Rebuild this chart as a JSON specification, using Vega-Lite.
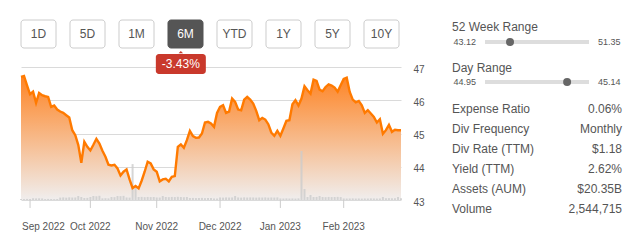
{
  "$schema": "https://vega.github.io/schema/vega-lite/v6.json",
  "padding": {"left": 16, "top": 19, "right": 5, "bottom": 5},
  "background": "white",
  "config": {"view": {"stroke": null}, "font": "Liberation Sans"},
  "datasets": {
    "prices": [
      {"date":"2022-08-29","price":46.70,"volume":1500000},
      {"date":"2022-08-30","price":46.73,"volume":1400000},
      {"date":"2022-08-31","price":46.45,"volume":1600000},
      {"date":"2022-09-01","price":46.18,"volume":1500000},
      {"date":"2022-09-02","price":46.26,"volume":2600000},
      {"date":"2022-09-06","price":45.92,"volume":2400000},
      {"date":"2022-09-07","price":46.22,"volume":2500000},
      {"date":"2022-09-08","price":46.15,"volume":2300000},
      {"date":"2022-09-09","price":46.12,"volume":1400000},
      {"date":"2022-09-12","price":46.10,"volume":1600000},
      {"date":"2022-09-13","price":45.80,"volume":1500000},
      {"date":"2022-09-14","price":45.84,"volume":1300000},
      {"date":"2022-09-15","price":45.72,"volume":1500000},
      {"date":"2022-09-16","price":45.66,"volume":3600000},
      {"date":"2022-09-19","price":45.62,"volume":3900000},
      {"date":"2022-09-20","price":45.55,"volume":3500000},
      {"date":"2022-09-21","price":45.48,"volume":4000000},
      {"date":"2022-09-22","price":45.10,"volume":3700000},
      {"date":"2022-09-23","price":44.95,"volume":3800000},
      {"date":"2022-09-26","price":44.65,"volume":6000000},
      {"date":"2022-09-27","price":44.12,"volume":4500000},
      {"date":"2022-09-28","price":44.75,"volume":3000000},
      {"date":"2022-09-29","price":44.60,"volume":3200000},
      {"date":"2022-09-30","price":44.49,"volume":4500000},
      {"date":"2022-10-03","price":44.66,"volume":6000000},
      {"date":"2022-10-04","price":44.84,"volume":5600000},
      {"date":"2022-10-05","price":44.70,"volume":6300000},
      {"date":"2022-10-06","price":44.48,"volume":2500000},
      {"date":"2022-10-07","price":44.30,"volume":2700000},
      {"date":"2022-10-10","price":44.06,"volume":2400000},
      {"date":"2022-10-11","price":44.04,"volume":4500000},
      {"date":"2022-10-12","price":44.06,"volume":4300000},
      {"date":"2022-10-13","price":43.95,"volume":6000000},
      {"date":"2022-10-14","price":43.74,"volume":5800000},
      {"date":"2022-10-17","price":43.85,"volume":6200000},
      {"date":"2022-10-18","price":43.92,"volume":3800000},
      {"date":"2022-10-19","price":43.62,"volume":3600000},
      {"date":"2022-10-20","price":43.36,"volume":54000000},
      {"date":"2022-10-21","price":43.42,"volume":19500000},
      {"date":"2022-10-24","price":43.35,"volume":4500000},
      {"date":"2022-10-25","price":43.58,"volume":4700000},
      {"date":"2022-10-26","price":43.85,"volume":4300000},
      {"date":"2022-10-27","price":44.15,"volume":4600000},
      {"date":"2022-10-28","price":44.10,"volume":4400000},
      {"date":"2022-10-31","price":43.92,"volume":4500000},
      {"date":"2022-11-01","price":43.85,"volume":3800000},
      {"date":"2022-11-02","price":43.56,"volume":3700000},
      {"date":"2022-11-03","price":43.62,"volume":6000000},
      {"date":"2022-11-04","price":43.64,"volume":4500000},
      {"date":"2022-11-07","price":43.56,"volume":4300000},
      {"date":"2022-11-08","price":43.70,"volume":4600000},
      {"date":"2022-11-09","price":43.72,"volume":4400000},
      {"date":"2022-11-10","price":44.60,"volume":4800000},
      {"date":"2022-11-11","price":44.67,"volume":4500000},
      {"date":"2022-11-14","price":44.57,"volume":4200000},
      {"date":"2022-11-15","price":44.80,"volume":4500000},
      {"date":"2022-11-16","price":45.08,"volume":3000000},
      {"date":"2022-11-17","price":44.92,"volume":3100000},
      {"date":"2022-11-18","price":44.87,"volume":2900000},
      {"date":"2022-11-21","price":44.88,"volume":3000000},
      {"date":"2022-11-22","price":45.00,"volume":3200000},
      {"date":"2022-11-23","price":45.33,"volume":2800000},
      {"date":"2022-11-25","price":45.35,"volume":3000000},
      {"date":"2022-11-28","price":45.30,"volume":3100000},
      {"date":"2022-11-29","price":45.20,"volume":2300000},
      {"date":"2022-11-30","price":45.62,"volume":2200000},
      {"date":"2022-12-01","price":45.80,"volume":3800000},
      {"date":"2022-12-02","price":45.85,"volume":3600000},
      {"date":"2022-12-05","price":45.62,"volume":3900000},
      {"date":"2022-12-06","price":45.66,"volume":3700000},
      {"date":"2022-12-07","price":46.05,"volume":3800000},
      {"date":"2022-12-08","price":45.95,"volume":6000000},
      {"date":"2022-12-09","price":45.72,"volume":3800000},
      {"date":"2022-12-12","price":45.70,"volume":3600000},
      {"date":"2022-12-13","price":46.02,"volume":4000000},
      {"date":"2022-12-14","price":46.10,"volume":3700000},
      {"date":"2022-12-15","price":46.02,"volume":3900000},
      {"date":"2022-12-16","price":45.90,"volume":3800000},
      {"date":"2022-12-19","price":45.68,"volume":3600000},
      {"date":"2022-12-20","price":45.40,"volume":3800000},
      {"date":"2022-12-21","price":45.47,"volume":3700000},
      {"date":"2022-12-22","price":45.42,"volume":3900000},
      {"date":"2022-12-23","price":45.28,"volume":3600000},
      {"date":"2022-12-27","price":45.03,"volume":3800000},
      {"date":"2022-12-28","price":44.93,"volume":3700000},
      {"date":"2022-12-29","price":45.08,"volume":3900000},
      {"date":"2022-12-30","price":44.93,"volume":2300000},
      {"date":"2023-01-03","price":45.15,"volume":2200000},
      {"date":"2023-01-04","price":45.38,"volume":2400000},
      {"date":"2023-01-05","price":45.40,"volume":2200000},
      {"date":"2023-01-06","price":45.88,"volume":2300000},
      {"date":"2023-01-09","price":46.00,"volume":2100000},
      {"date":"2023-01-10","price":45.84,"volume":2400000},
      {"date":"2023-01-11","price":46.05,"volume":73700000},
      {"date":"2023-01-12","price":46.42,"volume":16500000},
      {"date":"2023-01-13","price":46.30,"volume":4500000},
      {"date":"2023-01-17","price":46.20,"volume":7500000},
      {"date":"2023-01-18","price":46.62,"volume":4500000},
      {"date":"2023-01-19","price":46.58,"volume":4600000},
      {"date":"2023-01-20","price":46.32,"volume":6000000},
      {"date":"2023-01-23","price":46.27,"volume":4500000},
      {"date":"2023-01-24","price":46.40,"volume":4300000},
      {"date":"2023-01-25","price":46.48,"volume":4600000},
      {"date":"2023-01-26","price":46.44,"volume":4400000},
      {"date":"2023-01-27","price":46.38,"volume":4500000},
      {"date":"2023-01-30","price":46.26,"volume":4700000},
      {"date":"2023-01-31","price":46.45,"volume":4400000},
      {"date":"2023-02-01","price":46.64,"volume":2300000},
      {"date":"2023-02-02","price":46.68,"volume":2200000},
      {"date":"2023-02-03","price":46.25,"volume":2300000},
      {"date":"2023-02-06","price":46.02,"volume":2400000},
      {"date":"2023-02-07","price":45.94,"volume":2200000},
      {"date":"2023-02-08","price":45.98,"volume":2300000},
      {"date":"2023-02-09","price":45.85,"volume":2100000},
      {"date":"2023-02-10","price":45.62,"volume":2300000},
      {"date":"2023-02-13","price":45.70,"volume":2200000},
      {"date":"2023-02-14","price":45.60,"volume":2400000},
      {"date":"2023-02-15","price":45.50,"volume":2300000},
      {"date":"2023-02-16","price":45.33,"volume":2200000},
      {"date":"2023-02-17","price":45.43,"volume":2300000},
      {"date":"2023-02-21","price":44.99,"volume":4500000},
      {"date":"2023-02-22","price":45.10,"volume":2700000},
      {"date":"2023-02-23","price":45.26,"volume":2800000},
      {"date":"2023-02-24","price":45.05,"volume":2600000},
      {"date":"2023-02-27","price":45.11,"volume":2700000},
      {"date":"2023-02-28","price":45.10,"volume":4500000},
      {"date":"2023-03-01","price":45.10,"volume":2544715}
    ],
    "months": [
      {"date": "2022-09-01", "m": "Sep 2022"},
      {"date": "2022-09-30", "m": "Oct 2022"},
      {"date": "2022-11-01", "m": "Nov 2022"},
      {"date": "2022-12-01", "m": "Dec 2022"},
      {"date": "2022-12-30", "m": "Jan 2023"},
      {"date": "2023-02-01", "m": "Feb 2023"}
    ]
  },
  "spacing": 26,
  "hconcat": [
    {
      "bounds": "flush",
      "spacing": 19,
      "vconcat": [
        {
          "width": 378,
          "height": 28,
          "data": {"values": [
            {"label": "1D", "state": "off"},
            {"label": "5D", "state": "off"},
            {"label": "1M", "state": "off"},
            {"label": "6M", "state": "on"},
            {"label": "YTD", "state": "off"},
            {"label": "1Y", "state": "off"},
            {"label": "5Y", "state": "off"},
            {"label": "10Y", "state": "off"}
          ]},
          "encoding": {
            "x": {"field": "label", "type": "nominal", "sort": null, "axis": null,
                  "scale": {"type": "band", "paddingInner": 0.2857, "paddingOuter": 0}}
          },
          "layer": [
            {
              "mark": {"type": "bar", "cornerRadius": 3, "strokeWidth": 1},
              "encoding": {
                "fill": {"condition": {"test": "datum.state === 'on'", "value": "#555555"}, "value": "#ffffff"},
                "stroke": {"condition": {"test": "datum.state === 'on'", "value": "#555555"}, "value": "#cccccc"}
              }
            },
            {
              "mark": {"type": "text", "fontSize": 12, "baseline": "middle"},
              "encoding": {
                "text": {"field": "label"},
                "color": {"condition": {"test": "datum.state === 'on'", "value": "#ffffff"}, "value": "#555555"}
              }
            }
          ]
        },
        {
          "width": 380,
          "height": 133,
          "data": {"name": "prices"},
          "encoding": {
            "x": {"field": "date", "type": "ordinal", "scale": {"type": "point", "padding": 0}, "axis": null}
          },
          "layer": [
            {
              "mark": {"type": "area", "opacity": 1, "color": {"gradient": "linear", "x1": 0, "x2": 0, "y1": 0, "y2": 1,
                "stops": [{"offset": 0, "color": "#fe8424"}, {"offset": 1, "color": "#f0eeee"}]}},
              "encoding": {
                "y": {"field": "price", "type": "quantitative", "scale": {"domain": [43, 47], "nice": false, "zero": false},
                      "axis": {"orient": "right", "values": [43, 44, 45, 46, 47], "title": null, "grid": true, "gridColor": "#dadada",
                               "domain": false, "ticks": false, "tickSize": 0, "labelPadding": 12, "labelFontSize": 10,
                               "labelColor": "#555555", "labelFlush": false, "labelOffset": 2}},
                "y2": {"datum": 43}
              }
            },
            {
              "mark": {"type": "bar", "width": 2, "color": "#cccccc", "opacity": 0.8},
              "encoding": {
                "y": {"field": "volume", "type": "quantitative", "scale": {"domain": [0, 200000000]}, "axis": null}
              }
            },
            {
              "mark": {"type": "line", "color": "#ff7a00", "strokeWidth": 2.4},
              "encoding": {
                "y": {"field": "price", "type": "quantitative", "scale": {"domain": [43, 47], "nice": false, "zero": false}, "axis": null}
              }
            },
            {
              "data": {"name": "months"},
              "mark": {"type": "rule", "color": "#cccccc", "strokeWidth": 1},
              "encoding": {
                "y": {"datum": 43, "type": "quantitative", "scale": {"domain": [43, 47], "nice": false, "zero": false}, "axis": null},
                "y2": {"datum": 42.76}
              }
            },
            {
              "data": {"name": "months"},
              "transform": [{"filter": "datum.m == 'Sep 2022'"}],
              "mark": {"type": "text", "fontSize": 10, "color": "#555555", "align": "left", "baseline": "alphabetic", "dx": -8},
              "encoding": {
                "y": {"datum": 42.11, "type": "quantitative", "scale": {"domain": [43, 47], "nice": false, "zero": false}, "axis": null},
                "text": {"field": "m"}
              }
            },
            {
              "data": {"name": "months"},
              "transform": [{"filter": "datum.m != 'Sep 2022'"}],
              "mark": {"type": "text", "fontSize": 10, "color": "#555555", "align": "center", "baseline": "alphabetic"},
              "encoding": {
                "y": {"datum": 42.11, "type": "quantitative", "scale": {"domain": [43, 47], "nice": false, "zero": false}, "axis": null},
                "text": {"field": "m"}
              }
            },
            {
              "data": {"values": [{"t": "-3.43%"}]},
              "mark": {"type": "point", "shape": "M-1,0.5L0,-0.5L1,0.5Z", "size": 20, "filled": true, "opacity": 1, "color": "#c9392c"},
              "encoding": {
                "x": {"datum": "2022-11-11", "type": "ordinal", "axis": null},
                "y": {"datum": 47.45, "type": "quantitative", "scale": {"domain": [43, 47], "nice": false, "zero": false}, "axis": null}
              }
            },
            {
              "data": {"values": [{"t": "-3.43%"}]},
              "mark": {"type": "bar", "width": 50, "cornerRadius": 3, "color": "#c9392c"},
              "encoding": {
                "x": {"datum": "2022-11-11", "type": "ordinal", "axis": null},
                "y": {"datum": 47.391, "type": "quantitative", "scale": {"domain": [43, 47], "nice": false, "zero": false}, "axis": null},
                "y2": {"datum": 46.789}
              }
            },
            {
              "data": {"values": [{"t": "-3.43%"}]},
              "mark": {"type": "text", "fontSize": 12, "color": "#ffffff", "baseline": "middle"},
              "encoding": {
                "x": {"datum": "2022-11-11", "type": "ordinal", "axis": null},
                "y": {"datum": 47.09, "type": "quantitative", "scale": {"domain": [43, 47], "nice": false, "zero": false}, "axis": null},
                "text": {"field": "t"}
              }
            }
          ],
          "resolve": {"scale": {"y": "independent"}}
        }
      ]
    },
    {
      "bounds": "flush",
      "spacing": 12,
      "vconcat": [
        {
          "width": 170,
          "height": 29,
          "data": {"values": [{"title": "52 Week Range", "low": 43.12, "high": 51.35, "cur": 45.10}]},
          "layer": [
            {
              "mark": {"type": "text", "align": "left", "baseline": "middle", "dx": -33, "fontSize": 12, "color": "#555555"},
              "encoding": {
                "x": {"field": "low", "type": "quantitative", "scale": {"domain": [43.12, 51.35], "padding": 33, "nice": false, "zero": false}, "axis": null},
                "y": {"datum": "title", "type": "nominal", "scale": {"type": "point", "domain": ["title", "bar"], "padding": 0.467}, "axis": null},
                "text": {"field": "title"}
              }
            },
            {
              "mark": {"type": "rule", "strokeWidth": 4, "color": "#dddddd", "strokeCap": "butt"},
              "encoding": {
                "x": {"field": "low", "type": "quantitative", "scale": {"domain": [43.12, 51.35], "padding": 33, "nice": false, "zero": false}, "axis": null},
                "x2": {"field": "high"},
                "y": {"datum": "bar", "type": "nominal", "scale": {"type": "point", "domain": ["title", "bar"], "padding": 0.467}, "axis": null}
              }
            },
            {
              "mark": {"type": "point", "filled": true, "size": 64, "opacity": 1, "color": "#666666"},
              "encoding": {
                "x": {"field": "cur", "type": "quantitative", "scale": {"domain": [43.12, 51.35], "padding": 33, "nice": false, "zero": false}, "axis": null},
                "y": {"datum": "bar", "type": "nominal", "scale": {"type": "point", "domain": ["title", "bar"], "padding": 0.467}, "axis": null}
              }
            },
            {
              "mark": {"type": "text", "align": "right", "baseline": "middle", "dx": -9, "fontSize": 9, "color": "#555555"},
              "encoding": {
                "x": {"field": "low", "type": "quantitative", "scale": {"domain": [43.12, 51.35], "padding": 33, "nice": false, "zero": false}, "axis": null},
                "y": {"datum": "bar", "type": "nominal", "scale": {"type": "point", "domain": ["title", "bar"], "padding": 0.467}, "axis": null},
                "text": {"field": "low", "type": "quantitative", "format": ".2f"}
              }
            },
            {
              "mark": {"type": "text", "align": "left", "baseline": "middle", "dx": 9, "fontSize": 9, "color": "#555555"},
              "encoding": {
                "x": {"field": "high", "type": "quantitative", "scale": {"domain": [43.12, 51.35], "padding": 33, "nice": false, "zero": false}, "axis": null},
                "y": {"datum": "bar", "type": "nominal", "scale": {"type": "point", "domain": ["title", "bar"], "padding": 0.467}, "axis": null},
                "text": {"field": "high", "type": "quantitative", "format": ".2f"}
              }
            }
          ]
        },
        {
          "width": 170,
          "height": 28,
          "data": {"values": [{"title": "Day Range", "low": 44.95, "high": 45.14, "cur": 45.10}]},
          "layer": [
            {
              "mark": {"type": "text", "align": "left", "baseline": "middle", "dx": -33, "fontSize": 12, "color": "#555555"},
              "encoding": {
                "x": {"field": "low", "type": "quantitative", "scale": {"domain": [44.95, 45.14], "padding": 33, "nice": false, "zero": false}, "axis": null},
                "y": {"datum": "title", "type": "nominal", "scale": {"type": "point", "domain": ["title", "bar"], "padding": 0.5}, "axis": null},
                "text": {"field": "title"}
              }
            },
            {
              "mark": {"type": "rule", "strokeWidth": 4, "color": "#dddddd", "strokeCap": "butt"},
              "encoding": {
                "x": {"field": "low", "type": "quantitative", "scale": {"domain": [44.95, 45.14], "padding": 33, "nice": false, "zero": false}, "axis": null},
                "x2": {"field": "high"},
                "y": {"datum": "bar", "type": "nominal", "scale": {"type": "point", "domain": ["title", "bar"], "padding": 0.5}, "axis": null}
              }
            },
            {
              "mark": {"type": "point", "filled": true, "size": 64, "opacity": 1, "color": "#666666"},
              "encoding": {
                "x": {"field": "cur", "type": "quantitative", "scale": {"domain": [44.95, 45.14], "padding": 33, "nice": false, "zero": false}, "axis": null},
                "y": {"datum": "bar", "type": "nominal", "scale": {"type": "point", "domain": ["title", "bar"], "padding": 0.5}, "axis": null}
              }
            },
            {
              "mark": {"type": "text", "align": "right", "baseline": "middle", "dx": -9, "fontSize": 9, "color": "#555555"},
              "encoding": {
                "x": {"field": "low", "type": "quantitative", "scale": {"domain": [44.95, 45.14], "padding": 33, "nice": false, "zero": false}, "axis": null},
                "y": {"datum": "bar", "type": "nominal", "scale": {"type": "point", "domain": ["title", "bar"], "padding": 0.5}, "axis": null},
                "text": {"field": "low", "type": "quantitative", "format": ".2f"}
              }
            },
            {
              "mark": {"type": "text", "align": "left", "baseline": "middle", "dx": 9, "fontSize": 9, "color": "#555555"},
              "encoding": {
                "x": {"field": "high", "type": "quantitative", "scale": {"domain": [44.95, 45.14], "padding": 33, "nice": false, "zero": false}, "axis": null},
                "y": {"datum": "bar", "type": "nominal", "scale": {"type": "point", "domain": ["title", "bar"], "padding": 0.5}, "axis": null},
                "text": {"field": "high", "type": "quantitative", "format": ".2f"}
              }
            }
          ]
        },
        {
          "width": 170,
          "height": 116,
          "data": {"values": [
            {"label": "Expense Ratio", "value": "0.06%"},
            {"label": "Div Frequency", "value": "Monthly"},
            {"label": "Div Rate (TTM)", "value": "$1.18"},
            {"label": "Yield (TTM)", "value": "2.62%"},
            {"label": "Assets (AUM)", "value": "$20.35B"},
            {"label": "Volume", "value": "2,544,715"}
          ]},
          "encoding": {
            "y": {"field": "label", "type": "nominal", "sort": null, "scale": {"type": "point", "padding": 0.4}, "axis": null}
          },
          "layer": [
            {
              "mark": {"type": "text", "align": "left", "baseline": "middle", "fontSize": 12, "color": "#555555"},
              "encoding": {
                "x": {"datum": "l", "type": "nominal", "scale": {"type": "point", "domain": ["l", "r"], "padding": 0}, "axis": null},
                "text": {"field": "label"}
              }
            },
            {
              "mark": {"type": "text", "align": "right", "baseline": "middle", "fontSize": 12, "color": "#555555"},
              "encoding": {
                "x": {"datum": "r", "type": "nominal", "scale": {"type": "point", "domain": ["l", "r"], "padding": 0}, "axis": null},
                "text": {"field": "value"}
              }
            }
          ]
        }
      ]
    }
  ]
}
